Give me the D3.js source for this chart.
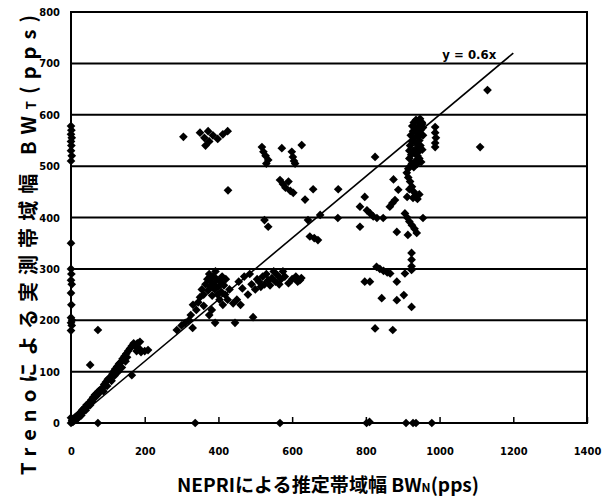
<!DOCTYPE html>
<html><head><meta charset="utf-8">
<script src="https://cdn.jsdelivr.net/npm/d3@7"></script>
<style>
body{margin:0;background:#fff;}
svg{display:block;}
.tick text{font-family:"Liberation Sans Narrow","DejaVu Sans Condensed",sans-serif;font-weight:bold;font-size:11px;fill:#000;}
</style></head>
<body>
<svg id="c" width="607" height="503"></svg>
<script>
// ---- data (x: NEPRI estimated BW, y: Treno measured BW, pps) ----
const xTicks = [0,200,400,600,800,1000,1200,1400];
const yTicks = [0,100,200,300,400,500,600,700,800];
const fitSlope = 0.6;
const fitEnd = 1200;
const fitLabel = "y = 0.6x";
const axisPoints = [[0,0],[3,5],[0,10],[5,2],[0,180],[2,190],[0,195],[3,200],[0,205],[1,230],[0,253],[2,270],[0,278],[1,290],[0,300],[0,350],[0,510],[2,520],[0,530],[1,540],[0,548],[2,555],[0,562],[1,570],[0,578]];
const bottomPoints = [[73,0],[337,0],[567,0],[802,0],[810,2],[909,0],[928,0],[936,0],[979,0]];
const lowBand = [[5,3],[8,8],[10,5],[12,12],[15,8],[18,15],[20,10],[22,18],[25,20],[28,15],[30,25],[33,22],[35,28],[38,30],[40,25],[42,35],[45,32],[48,38],[50,40],[52,35],[55,45],[58,42],[60,50],[62,48],[65,55],[68,52],[70,58],[72,55],[75,62],[78,60],[80,65],[85,68],[88,62],[90,75],[95,80],[98,72],[100,85],[105,88],[110,82],[112,95],[115,100],[118,92],[120,105],[125,110],[128,100],[130,115],[133,117],[135,118],[138,108],[140,125],[145,130],[148,120],[150,135],[152,128],[155,140],[160,145],[165,93],[165,150],[170,155],[175,150],[178,140],[180,155],[185,145],[187,158],[190,138],[200,140],[209,142],[52,113],[73,181]];
const midCluster = [[300,190],[287,181],[310,195],[320,200],[330,185],[325,210],[331,230],[340,220],[345,235],[350,245],[355,260],[360,250],[360,228],[365,270],[370,280],[372,258],[375,290],[375,210],[378,265],[380,275],[382,220],[383,248],[385,285],[388,270],[390,260],[391,195],[392,295],[395,280],[398,250],[400,265],[403,240],[405,275],[408,255],[410,285],[412,230],[415,268],[418,250],[420,280],[425,240],[430,260],[440,233],[445,195],[494,206]];
const band300 = [[450,240],[455,275],[460,230],[465,262],[470,285],[480,250],[485,290],[490,270],[500,260],[505,280],[510,275],[515,265],[520,285],[525,270],[530,290],[535,278],[540,268],[545,282],[550,295],[555,275],[560,288],[565,270],[570,280],[575,295],[580,285],[590,272],[600,280],[610,285],[615,275],[621,278],[625,282]];
const upperLeft = [[305,557],[350,565],[362,555],[372,568],[385,560],[398,553],[412,562],[425,568],[365,540],[375,548],[426,453]];
const upperMid = [[518,537],[522,528],[528,520],[535,512],[530,505],[572,535],[599,528],[602,518],[605,510],[608,505],[567,473],[575,465],[582,458],[590,470],[595,452],[603,448],[626,541],[657,455],[635,435],[725,455],[643,395],[676,405],[724,399],[648,363],[660,360],[670,356],[525,395],[535,382]];
const rightScatter = [[797,275],[811,275],[829,304],[838,300],[848,296],[858,293],[866,291],[884,275],[924,331],[924,318],[924,305],[924,298],[906,291],[843,243],[884,239],[903,249],[924,226],[825,184],[873,181],[825,518],[875,474],[888,454],[797,440],[784,421],[803,414],[812,408],[820,402],[830,399],[847,399],[865,421],[872,428],[879,434],[784,382],[884,372],[906,408],[912,400],[918,392],[925,385],[932,378],[938,370],[955,399],[914,366],[911,487],[915,478],[920,470],[925,460],[930,450],[935,442],[940,436],[945,445],[918,455],[928,438],[912,440]];
const mainCluster = [[915,495],[920,500],[925,505],[930,498],[935,510],[940,505],[945,515],[950,508],[918,515],[923,522],[928,530],[933,525],[938,535],[943,528],[948,540],[953,532],[920,540],[925,548],[930,555],[935,545],[940,558],[945,550],[950,562],[922,560],[928,568],[933,575],[938,565],[943,578],[948,570],[953,582],[930,585],[936,590],[942,588],[947,592],[952,585],[926,578],[918,530],[955,560],[955,575],[940,520]];
const farRight = [[988,576],[988,565],[990,555],[988,545],[988,537],[1110,537],[1130,648]];

const allPoints = [].concat(axisPoints,bottomPoints,lowBand,midCluster,band300,upperLeft,upperMid,rightScatter,mainCluster,farRight);

// ---- drawing ----
const svg = d3.select("#c");
const x = d3.scaleLinear().domain([0,1400]).range([71,587]);
const y = d3.scaleLinear().domain([0,800]).range([423,12]);

// grid lines
svg.append("g").selectAll("line").data(yTicks.filter(v=>v>0&&v<800)).join("line")
  .attr("x1",x(0)).attr("x2",x(1400)).attr("y1",d=>y(d)).attr("y2",d=>y(d))
  .attr("stroke","#000").attr("stroke-width",2);

// frame
svg.append("rect").attr("x",x(0)).attr("y",y(800)).attr("width",x(1400)-x(0)).attr("height",y(0)-y(800))
  .attr("fill","none").attr("stroke","#000").attr("stroke-width",2);

// axes
const xAxis = svg.append("g").attr("transform",`translate(0,${y(0)})`)
  .call(d3.axisBottom(x).tickValues(xTicks).tickSizeInner(-6).tickSizeOuter(0).tickPadding(24).tickFormat(d3.format("d")));
xAxis.select(".domain").remove();
xAxis.selectAll(".tick line").attr("stroke","#000").attr("stroke-width",1.5);
const yAxis = svg.append("g").attr("transform",`translate(${x(0)},0)`)
  .call(d3.axisLeft(y).tickValues(yTicks).tickSize(0).tickPadding(11).tickFormat(d3.format("d")));
yAxis.select(".domain").remove();

// fit line
svg.append("line").attr("x1",x(0)).attr("y1",y(0)).attr("x2",x(fitEnd)).attr("y2",y(fitEnd*fitSlope))
  .attr("stroke","#000").attr("stroke-width",1.6);
svg.append("text").attr("x",x(fitEnd)-44).attr("y",y(fitEnd*fitSlope)+6).attr("text-anchor","middle")
  .style("font-family","'Liberation Sans Narrow','DejaVu Sans Condensed',sans-serif").style("font-weight","bold").style("font-size","13px")
  .text(fitLabel);

// points (diamonds)
const diamond = d3.symbol().type(d3.symbolSquare).size(38);
svg.append("g").selectAll("path").data(allPoints).join("path")
  .attr("d",diamond)
  .attr("transform",d=>`translate(${x(d[0])},${y(d[1])}) rotate(45)`)
  .attr("fill","#000");

// axis titles
const cjk = "'Liberation Sans Narrow','Noto Sans CJK JP',sans-serif";
const xt = svg.append("text").attr("x",328).attr("y",492).attr("text-anchor","middle")
  .style("font-family",cjk).style("font-weight","bold").style("font-size","19px")
  .attr("textLength",302).attr("lengthAdjust","spacingAndGlyphs");
xt.append("tspan").text("NEPRIによる推定帯域幅 BW");
xt.append("tspan").style("font-size","12px").text("N");
xt.append("tspan").text("(pps)");

const yt = svg.append("text").attr("transform","translate(36,245) rotate(-90)").attr("text-anchor","middle")
  .style("font-family","'Noto Sans CJK JP',sans-serif").style("font-weight","bold").style("font-size","20px")
  .attr("textLength",460).attr("lengthAdjust","spacing");
yt.append("tspan").text("Trenoによる実測帯域幅 BW");
yt.append("tspan").style("font-size","13px").text("T");
yt.append("tspan").text("(pps)");
</script>
</body></html>
